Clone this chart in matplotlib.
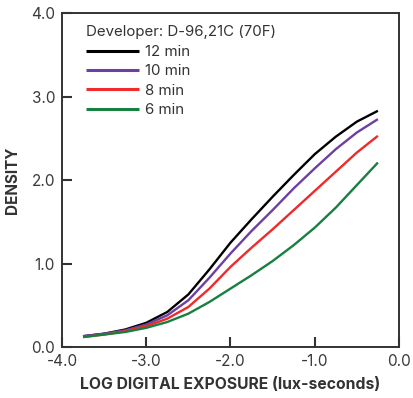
import matplotlib
matplotlib.use("Agg")
import matplotlib.pyplot as plt

plt.rcParams['font.family'] = ['Inter', 'DejaVu Sans']

# log exposure values and density readings for each development time
log_exposure = [-3.75, -3.5, -3.25, -3.0, -2.75, -2.5, -2.25, -2.0,
                -1.75, -1.5, -1.25, -1.0, -0.75, -0.5, -0.25]
d_12min = [0.13, 0.16, 0.21, 0.29, 0.42, 0.63, 0.93, 1.25,
           1.53, 1.80, 2.06, 2.31, 2.52, 2.70, 2.83]
d_10min = [0.13, 0.16, 0.20, 0.27, 0.38, 0.56, 0.83, 1.12,
           1.39, 1.64, 1.90, 2.14, 2.37, 2.57, 2.73]
d_8min = [0.12, 0.15, 0.19, 0.25, 0.34, 0.48, 0.70, 0.96,
          1.19, 1.41, 1.64, 1.87, 2.10, 2.33, 2.53]
d_6min = [0.12, 0.15, 0.18, 0.23, 0.30, 0.40, 0.54, 0.70,
          0.86, 1.03, 1.22, 1.43, 1.67, 1.94, 2.21]

labels = ['12 min', '10 min', '8 min', '6 min']
colors = ['#000000', '#6e3fa3', '#ee2a2a', '#178040']
xticks = [-4.0, -3.0, -2.0, -1.0, 0.0]
yticks = [0.0, 1.0, 2.0, 3.0, 4.0]

fig = plt.figure(figsize=(4.13, 3.98), dpi=100)
ax = fig.add_axes([0.150, 0.128, 0.816, 0.839])

for d, lab, c in zip([d_12min, d_10min, d_8min, d_6min], labels, colors):
    ax.plot(log_exposure, d, color=c, linewidth=1.7, label=lab,
            solid_capstyle='butt', solid_joinstyle='round')

ax.set_xlim(-4.0, 0.0)
ax.set_ylim(0.0, 4.0)
ax.set_xticks(xticks)
ax.set_yticks(yticks)
ax.set_xticklabels(['%.1f' % v for v in xticks])
ax.set_yticklabels(['%.1f' % v for v in yticks])
ax.tick_params(direction='in', length=7, width=1.5, colors='#333333',
               labelsize=11, labelcolor='#3a3a3a', pad=5)
for s in ax.spines.values():
    s.set_color('#333333')
    s.set_linewidth(1.4)

ax.set_xlabel('LOG DIGITAL EXPOSURE (lux-seconds)', fontsize=11.3,
              fontweight='bold', color='#333333', labelpad=6)
ax.set_ylabel('DENSITY', fontsize=11, fontweight='bold',
              color='#333333', labelpad=8)

leg = ax.legend(loc='upper left', bbox_to_anchor=(0.045, 0.99), frameon=False,
                title='Developer: D-96,21C (70F)', title_fontsize=10.8,
                fontsize=10.8, handlelength=3.5, handletextpad=0.4,
                labelspacing=0.36, alignment='left', borderaxespad=0.2)
for t in leg.get_texts():
    t.set_color('#333333')
leg.get_title().set_color('#333333')
for h in leg.get_lines():
    h.set_linewidth(2.2)

fig.savefig('out.png', dpi=100)
